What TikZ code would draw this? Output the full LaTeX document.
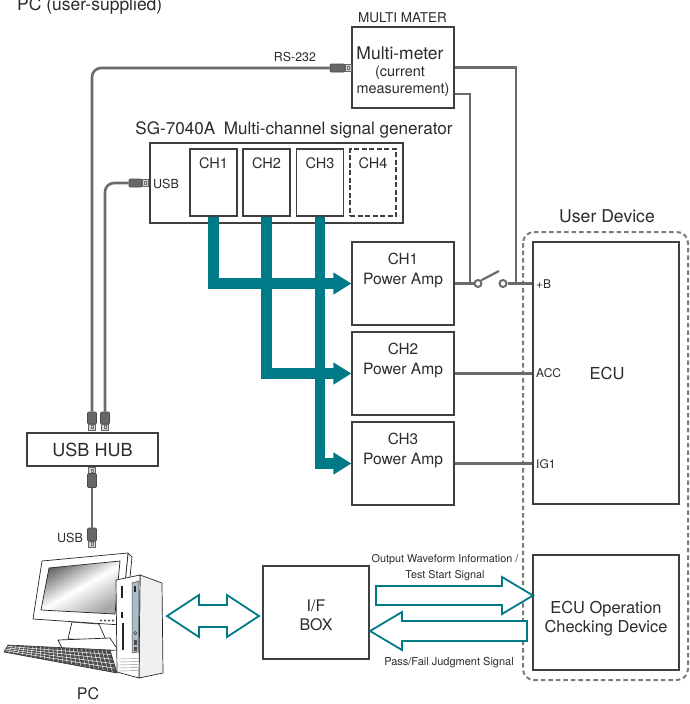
\documentclass[tikz,border=0pt]{standalone}
\usepackage{fontspec}
\setmainfont{TeX Gyre Heros}
\usetikzlibrary{arrows.meta,calc}
\definecolor{boxline}{HTML}{3F3F3F}
\definecolor{wirec}{HTML}{6B6B6B}
\definecolor{busc}{HTML}{007A87}
\definecolor{txtc}{HTML}{2B2B2B}
\definecolor{plugbody}{HTML}{676767}
\definecolor{plugtip}{HTML}{D4D4D4}
\definecolor{panelc}{HTML}{A9BDC8}
\definecolor{dashc}{HTML}{7A7A7A}
\newcommand\fsz[1]{\fontsize{#1}{#1}\selectfont}
\begin{document}
\begin{tikzpicture}[x=1pt, y=-1pt,
  box/.style={draw=boxline, line width=1.2pt, fill=white, inner sep=0pt},
  lbl/.style={inner sep=0pt, text=txtc, anchor=base},
  wire/.style={draw=wirec, line width=2.2pt},
  cable/.style={draw=wirec, line width=2.6pt, rounded corners=9pt},
  bus/.style={draw=busc, line width=10.7pt, line join=miter,
              -{Triangle[length=18pt,width=21pt]}},
  hollow/.style={draw=busc, line width=1.8pt, fill=white, line join=miter},
  plugb/.style={fill=plugbody, draw=black!70, line width=.6pt, inner sep=0pt, rounded corners=1pt},
  plugt/.style={fill=plugtip, draw=black!60, line width=.6pt, inner sep=0pt,
    path picture={\draw[black!55, line width=.4pt]
      ([xshift=-1.3pt,yshift=-1.5pt]path picture bounding box.center) rectangle
      ([xshift=1.3pt,yshift=1.5pt]path picture bounding box.center);}},
  swc/.style={circle, draw=wirec, line width=2pt, fill=white, minimum size=7pt, inner sep=0pt},
  pcline/.style={draw=black!85, line width=.7pt, line join=round}]
\useasboundingbox (0,0) rectangle (689,704);

\node[lbl, anchor=base west, font=\fsz{17.5}] (pcuser) at (17,10) {PC (user-supplied)};

% ---------- multimeter ----------
\node[lbl, font=\fsz{13.5}] (mmtitle) at (402.5,22.7) {MULTI MATER};
\node[box, minimum width=102pt, minimum height=81pt] (mm) at (403,67.5) {};
\node[lbl, font=\fsz{17.5}] (mmt1) at (400,59.5) {Multi-meter};
\node[lbl, font=\fsz{14.5}] (mmt2) at (400,76.5) {(current};
\node[lbl, font=\fsz{14.4}] (mmt3) at (403,93) {measurement)};

% ---------- signal generator ----------
\node[lbl, font=\fsz{17.1}] (sgtitle) at (294,134) {SG-7040A\enspace Multi-channel signal generator};
\node[box, minimum width=253pt, minimum height=80pt] (sg) at (276.5,183) {};
\node[box, minimum width=47pt, minimum height=67pt] (ch1) at (213.5,182.5) {};
\node[box, minimum width=47pt, minimum height=67pt] (ch2) at (266.5,182.5) {};
\node[box, minimum width=47pt, minimum height=67pt] (ch3) at (320,182.5) {};
\node[box, dash pattern=on 5pt off 2.5pt, minimum width=46pt, minimum height=67pt] (ch4) at (373,182.5) {};
\foreach \n/\x in {1/213.5,2/266.5,3/320,4/373}
  \node[lbl, font=\fsz{14.5}] (chl\n) at (\x,168) {CH\n};
\node[lbl, anchor=base west, font=\fsz{12.5}] (sgusb) at (153,188.5) {USB};

% ---------- power amplifiers ----------
\node[box, minimum width=102pt, minimum height=83pt] (amp1) at (403,283.5) {};
\node[box, minimum width=102pt, minimum height=83pt] (amp2) at (403,373.5) {};
\node[box, minimum width=102pt, minimum height=83pt] (amp3) at (403,463.5) {};
\foreach \n/\t in {1/242,2/332,3/422}{
  \node[lbl, font=\fsz{15.3}] (ampc\n) at (403,\t+22.5) {CH\n};
  \node[lbl, font=\fsz{15.6}] (ampp\n) at (403,\t+42) {Power Amp};
}

% ---------- user device ----------
\node[lbl, font=\fsz{17.6}] (udtitle) at (607,222.5) {User Device};
\draw[dashc, line width=2pt, dash pattern=on 4.5pt off 3pt, rounded corners=11pt]
  (523,232) rectangle (688,680);
\node[box, minimum width=146pt, minimum height=262pt] (ecu) at (606,373) {};
\node[lbl, font=\fsz{16.5}] (ecut) at (607,379) {ECU};
\node[box, minimum width=146pt, minimum height=115pt] (ecuop) at (606,612.5) {};
\node[lbl, font=\fsz{16.4}] (ecuop1) at (606,613) {ECU Operation};
\node[lbl, font=\fsz{16.4}] (ecuop2) at (606,632) {Checking Device};

% ---------- wiring to the ECU ----------
\node[swc] (s1) at (478,283.5) {};
\node[swc] (s2) at (503,283.5) {};
\coordinate (jA) at (470,283.5);
\coordinate (jB) at (516,283.5);
\coordinate (lever) at (499,271);
\draw[wire] (amp1.east) -- (s1.west);
\draw[wire] (s2.east) -- (amp1.east -| ecu.west);
\draw[wire] (s1.north east) -- (lever);
\draw[wire] (mm.east) -| (jB);
\draw[wire] ($(mm.east)+(0,26.5)$) -| (jA);
\draw[wire] (amp2.east) -- (amp2.east -| ecu.west);
\draw[wire] (amp3.east) -- (amp3.east -| ecu.west);
\node[lbl, anchor=base west, font=\fsz{12}] (pinb) at (536,288) {+B};
\node[lbl, anchor=base west, font=\fsz{12}] (pinacc) at (536,377.5) {ACC};
\node[lbl, anchor=base west, font=\fsz{12}] (pinig) at (536,468) {IG1};

% ---------- channel outputs ----------
\draw[bus] (ch1.south) |- (amp1.west);
\draw[bus] (ch2.south) |- (amp2.west);
\draw[bus] (ch3.south) |- (amp3.west);

% ---------- USB hub and cables ----------
\node[box, minimum width=131pt, minimum height=33pt] (hub) at (92.5,449.5) {};
\node[lbl, font=\fsz{18}] (hubt) at (92.5,456) {USB HUB};

\node[plugb, minimum width=15pt, minimum height=8pt] (rsb) at (337.5,68) {};
\node[plugt, minimum width=6pt, minimum height=7pt] (rst) at (348,68) {};
\node[plugb, minimum width=13pt, minimum height=8pt] (sgb) at (135.5,183) {};
\node[plugt, minimum width=6pt, minimum height=7pt] (sgt) at (145,183) {};
\node[plugb, minimum width=9pt, minimum height=12pt] (hA) at (92,418) {};
\node[plugt, minimum width=7pt, minimum height=6pt] (hAt) at (92,427) {};
\node[plugb, minimum width=9pt, minimum height=12pt] (hB) at (105,418) {};
\node[plugt, minimum width=7pt, minimum height=6pt] (hBt) at (105,427) {};
\node[plugt, minimum width=7pt, minimum height=6pt] (hCt) at (92,470.5) {};
\node[plugb, minimum width=9pt, minimum height=14pt] (hC) at (92,480.5) {};
\node[plugb, minimum width=9pt, minimum height=13pt] (pcb) at (92,534.5) {};
\node[plugt, minimum width=7pt, minimum height=6pt] (pct) at (92,544) {};

\node[lbl, font=\fsz{12.4}] (rslbl) at (295,61) {RS-232};
\node[lbl, font=\fsz{12.5}] (pcusb) at (70,542.5) {USB};

\draw[cable] (rsb.west) -| (hA.north);
\draw[cable] (sgb.west) -| (hB.north);
\draw[cable] (hC.south) -- (pcb.north);

% ---------- PC ----------
% monitor stand
\filldraw[pcline, fill=white] (72,622) -- (99,624) -- (106,640) -- (68,639) -- cycle;
\filldraw[pcline, fill=white] (58,640) -- (110,638) -- (118,650) -- (64,652) -- cycle;
% monitor
\filldraw[pcline, fill=white] (128,553) -- (132,557) -- (125,628) -- (121,625) -- cycle;
\filldraw[pcline, fill=white] (42,561) -- (128,553) -- (121,625) -- (33,619) -- cycle;
\shade[left color=black!60, right color=black!35, middle color=white, shading angle=30]
  (49,568) -- (120,561) -- (115,614) -- (41,610) -- cycle;
\draw[pcline] (49,568) -- (120,561) -- (115,614) -- (41,610) -- cycle;
\foreach \bx in {101,105,109,113}
  \fill[black!75] (\bx,620.5) circle (1.1pt);
% keyboard
\coordinate (kA) at (8,645);
\coordinate (kB) at (110,650);
\coordinate (kC) at (117,673);
\coordinate (kD) at (4,652);
\fill[black!70] (kA) -- (kB) -- (kC) -- (kD) -- cycle;
\foreach \t in {0.2,0.4,0.6,0.8}
  \draw[white, line width=.5pt] ($(kA)!\t!(kD)$) -- ($(kB)!\t!(kC)$);
\foreach \s in {0.04,0.08,...,0.97}
  \draw[white, line width=.4pt] ($(kA)!\s!(kB)$) -- ($(kD)!\s!(kC)$);
\draw[black!80, line width=.6pt] (kA) -- (kB) -- (kC) -- (kD) -- cycle;
% tower
\filldraw[pcline, fill=black!6] (140,575) -- (162,583) -- (163,673) -- (139,678) -- cycle;
\filldraw[pcline, fill=white] (116,580) -- (140,575) -- (139,678) -- (117,672) -- cycle;
\filldraw[draw=black!70, line width=.5pt, fill=panelc] (132,583) -- (139,581) -- (138.5,652) -- (132,653) -- cycle;
\fill[black!85] (121,586) rectangle (123,598);
\fill[black!85] (121,612) rectangle (123,618);
\fill[black!85] (122,623) rectangle (124,650);
\fill[black!85] (134,586) rectangle (136,592);
\draw[black!80, line width=.5pt] (135.3,633) circle (1.6pt);
\fill[black!70] (134,640) rectangle (137,645);
\fill[black!70] (134,647) rectangle (137,651);
\foreach \vy in {659,662,665,668,671}
  \draw[black!45, line width=.4pt] (118,\vy) -- (138.5,\vy-.5);
\node[lbl, font=\fsz{16}] (pclbl) at (88,699.8) {PC};

% ---------- I/F box and signal arrows ----------
\node[box, minimum width=106pt, minimum height=93pt] (ifbox) at (316,612.5) {};
\node[lbl, font=\fsz{16}] (ift1) at (316,611) {I/F};
\node[lbl, font=\fsz{16}] (ift2) at (316,630.5) {BOX};

\filldraw[hollow] (167,616) -- (199,595) -- (199,605) -- (227,605) -- (227,595) -- (259,616)
  -- (227,637) -- (227,627) -- (199,627) -- (199,637) -- cycle;
\filldraw[hollow] (376,586) -- (502,586) -- (502,577) -- (533,595.5) -- (502,614)
  -- (502,605) -- (376,605) -- cycle;
\filldraw[hollow] (527,621) -- (402,621) -- (402,612) -- (370,631) -- (402,650)
  -- (402,641) -- (527,641) -- cycle;

\node[lbl, font=\fsz{10.8}] (sig1a) at (445,562) {Output Waveform Information /};
\node[lbl, font=\fsz{10.8}] (sig1b) at (445,578) {Test Start Signal};
\node[lbl, font=\fsz{11}] (sig2) at (449,665.5) {Pass/Fail Judgment Signal};
\end{tikzpicture}
\end{document}
